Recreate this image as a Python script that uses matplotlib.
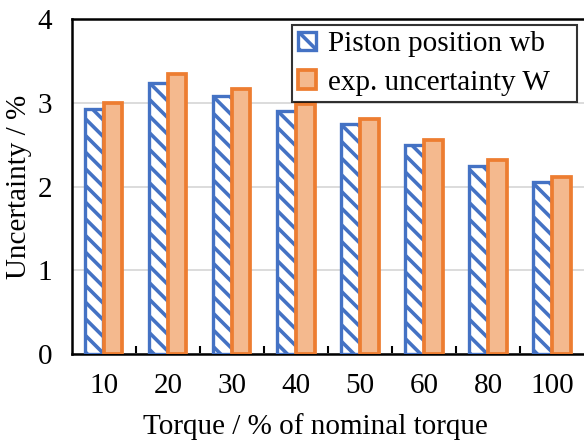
import matplotlib
matplotlib.use("Agg")
import matplotlib.pyplot as plt
import numpy as np

categories = ["10", "20", "30", "40", "50", "60", "80", "100"]
piston_wb = [2.93, 3.24, 3.08, 2.90, 2.75, 2.50, 2.25, 2.05]
exp_W = [3.00, 3.34, 3.16, 2.98, 2.81, 2.56, 2.32, 2.11]

plt.rcParams['font.family'] = ['Liberation Serif', 'DejaVu Serif']
plt.rcParams['hatch.linewidth'] = 2.6
plt.rcParams['hatch.color'] = '#4472C4'

FS = 21
fig = plt.figure(figsize=(5.84, 4.42), dpi=100)
ax = fig.add_axes([0.123, 0.199, 0.877, 0.758])

x = np.arange(len(categories))
w = 0.285
ax.bar(x - 0.148, piston_wb, w, facecolor='white', edgecolor='#4472C4',
       hatch='\\\\', linewidth=2.4, zorder=3, label='Piston position wb')
ax.bar(x + 0.148, exp_W, w, facecolor='#F4B98E', edgecolor='#ED7D31',
       linewidth=2.7, zorder=3, label='exp. uncertainty W')

ax.set_xlim(-0.5, len(categories) - 0.5)
ax.set_ylim(0, 4)
ax.set_yticks([0, 1, 2, 3, 4])
ax.yaxis.grid(True, color='#D9D9D9', linewidth=1.3, zorder=0)
ax.set_axisbelow(True)

ax.set_xticks(x)
ax.set_xticklabels(categories, fontsize=FS)
ax.set_xticks(np.arange(0.5, len(categories) - 0.5, 1.0), minor=True)
ax.tick_params(axis='x', which='major', length=0, pad=14)
ax.tick_params(axis='x', which='minor', direction='in', length=6, width=1.5)
ax.tick_params(axis='y', length=0, labelsize=FS, pad=14)

for s in ['left', 'bottom', 'top']:
    ax.spines[s].set_linewidth(1.8)
ax.spines['right'].set_visible(False)

ax.set_xlabel('Torque / % of nominal torque', fontsize=FS, labelpad=8)
ax.xaxis.set_label_coords(0.475, -0.175)
ax.set_ylabel('Uncertainty / %', fontsize=FS, labelpad=4)

leg = ax.legend(loc='upper left', bbox_to_anchor=(0.43, 0.0, 0.556, 0.982),
                mode='expand', fontsize=FS,
                frameon=True, fancybox=False, edgecolor='black',
                handlelength=0.6, handleheight=0.6, handletextpad=0.4,
                borderpad=0.22, labelspacing=0.42, borderaxespad=0)
leg.get_frame().set_linewidth(1.5)
leg.set_zorder(5)

fig.savefig('out.png', dpi=100)
